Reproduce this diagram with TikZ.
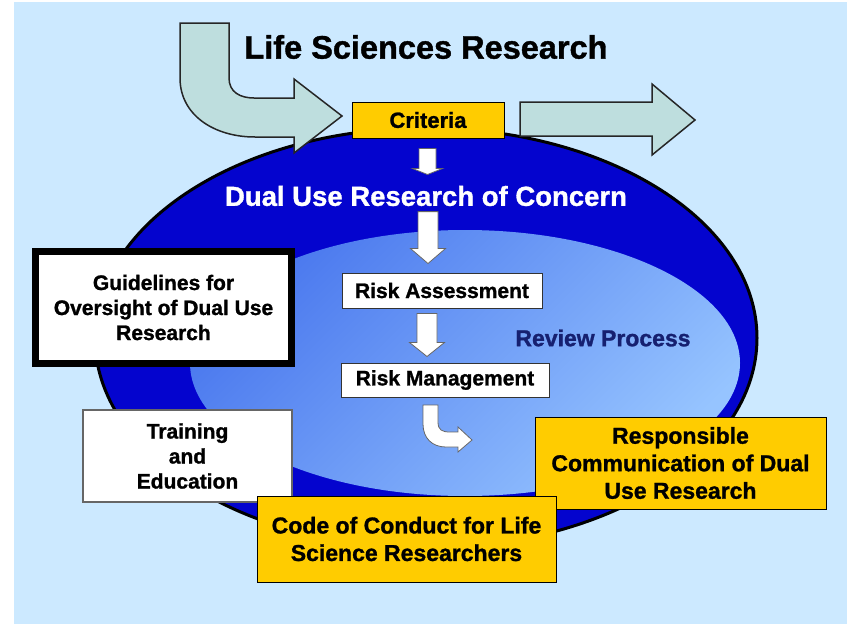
\documentclass[tikz,border=0pt]{standalone}
\usepackage{fontspec}
\setmainfont[BoldFeatures={FakeBold=1.2}]{Liberation Sans}
\usetikzlibrary{calc}

\definecolor{skyback}{RGB}{204,233,255}
\definecolor{ovalblue}{RGB}{4,4,206}
\definecolor{innerdark}{RGB}{74,120,238}
\definecolor{innerlight}{RGB}{150,196,255}
\definecolor{boxorange}{RGB}{255,204,0}
\definecolor{arrowteal}{RGB}{190,222,222}
\definecolor{navytext}{RGB}{22,32,112}

\newcommand{\boxfont}{\fontsize{21}{25}\selectfont\bfseries}
\newcommand{\bigboxfont}{\fontsize{23}{27.5}\selectfont\bfseries}
% white block arrow pointing down: from, to, half shaft, half head, head length
\newcommand{\downblock}[5]{%
  \draw[blockarrow] let \p1=#1, \p2=#2 in
    (\x1-#3,\y1) -- (\x1+#3,\y1) -- (\x1+#3,\y2+#5) -- (\x1+#4,\y2+#5)
    -- (\x1,\y2) -- (\x1-#4,\y2+#5) -- (\x1-#3,\y2+#5) -- cycle;}

\begin{document}
\begin{tikzpicture}[x=1pt,y=-1pt,
    orangebox/.style={draw=black, fill=boxorange, line width=1pt, align=center, inner sep=0pt},
    whitebox/.style={draw=black!80, fill=white, line width=1pt, align=center, inner sep=0pt},
    blockarrow/.style={draw=black!60, fill=white, line width=0.8pt, line join=miter},
    bigarrow/.style={draw=black!85, fill=arrowteal, line width=1.5pt, line join=miter}]
  \useasboundingbox (0,0) rectangle (852,624);
  \fill[skyback] (14,2) rectangle (847,624);                                   % page background

  % the two ovals
  \draw[fill=ovalblue, line width=3pt] (426,338) ellipse [x radius=331pt, y radius=210pt];
  \shade[top color=innerdark, bottom color=innerlight, shading angle=45]
    (465,363) ellipse [x radius=275pt, y radius=133pt];

  % research flow arrows
  \draw[bigarrow] (180,23) -- (229,23) -- (229,78) .. controls (229,92) and (240,98) .. (254,98)
    -- (294,98) -- (294,79) -- (342,116) -- (294,153) -- (294,137) -- (255,137)
    .. controls (214,137) and (180,115) .. (180,78) -- cycle;
  \draw[bigarrow] (520,102) -- (652,102) -- (652,84) -- (695,120) -- (652,155) -- (652,136)
    -- (520,136) -- cycle;

  \node[font=\fontsize{32.5}{38}\selectfont\bfseries] (title) at (426,47) {Life Sciences Research};
  \node[orangebox, font=\fontsize{22}{26}\selectfont\bfseries, minimum width=152pt, minimum height=36pt]
    (crit) at (428,120) {Criteria};
  \node[text=white, font=\fontsize{27.5}{32}\selectfont\bfseries] (concern) at (426,196)
    {Dual Use Research of Concern};
  \node[text=navytext, font=\fontsize{23}{27}\selectfont\bfseries] (review) at (603,338) {Review Process};

  % review steps
  \node[whitebox, font=\boxfont, minimum width=200pt, minimum height=35pt] (assess) at (442,290.5)
    {Risk Assessment};
  \node[whitebox, font=\boxfont, minimum width=208pt, minimum height=34pt] (manage) at (445,380)
    {Risk Management};

  \downblock{($(crit.south)+(-0.5,10)$)}{($(crit.south)+(-0.5,36)$)}{8.5pt}{15pt}{6pt}
  \downblock{($(concern.south)+(2,2)$)}{($(assess.north)+(-14,-9)$)}{10pt}{17.5pt}{15pt}
  \downblock{($(assess.south)+(-15,5)$)}{($(manage.north)+(-18,-6)$)}{10pt}{17.5pt}{14pt}
  \draw[blockarrow] (423,405) -- (438,405) -- (438,422) .. controls (438,430) and (442,432) .. (450,432)
    -- (458,432) -- (458,427) -- (472,440) -- (458,452) -- (458,447) -- (446,447)
    .. controls (432,447) and (423,438) .. (423,424) -- cycle;                % turn to communication

  % surrounding measures
  \node[whitebox, font=\boxfont, draw=black, line width=7pt, minimum width=256pt, minimum height=112pt]
    (guide) at (163.5,307.5) {Guidelines for\\Oversight of Dual Use\\Research};
  \node[whitebox, font=\boxfont, draw=black!60, line width=1.2pt, minimum width=209pt, minimum height=92pt]
    (train) at (187.5,456) {Training\\and\\Education};
  \node[orangebox, font=\bigboxfont, minimum width=291pt, minimum height=92pt] (comm) at (680.5,463)
    {Responsible\\Communication of Dual\\Use Research};
  \node[orangebox, font=\bigboxfont, minimum width=299pt, minimum height=86pt] (code) at (406.5,539)
    {Code of Conduct for Life\\Science Researchers};
\end{tikzpicture}
\end{document}
